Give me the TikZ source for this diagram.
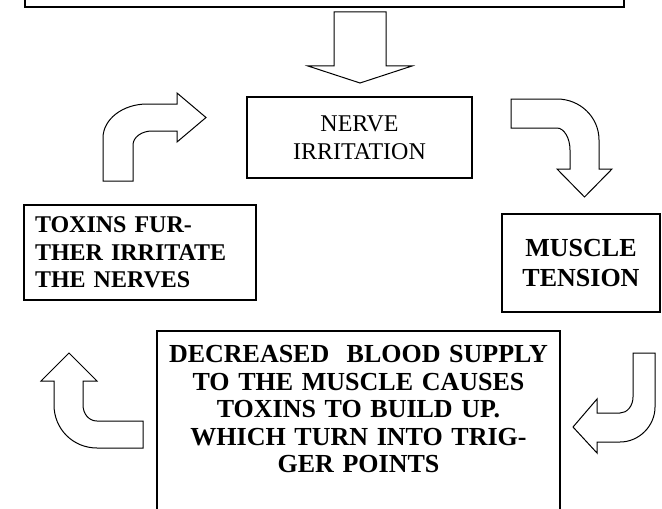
\documentclass[tikz,border=0pt]{standalone}
\usepackage{fontspec}
\setmainfont{Liberation Serif}
\tikzstyle{plain box}=[
    draw = black,
    line width = 0.8pt,
    fill = white,
    rectangle,
    inner sep = 0pt,
    align = center
]
\tikzstyle{block arrow}=[
    draw = black,
    line width = 0.5pt,
    fill = white
]

\begin{document}
\begin{tikzpicture}[x=0.5pt, y=-0.5pt]
    \useasboundingbox[fill=white] (0,0) rectangle (662,508);

    \node[plain box, anchor=south west, minimum width=299.5pt, minimum height=40pt] (source) at (24,8) {};
    \node[plain box, minimum width=112.5pt, minimum height=40.5pt, font=\fontsize{12}{14}\selectfont] (nerve) at (359.5,137.5) {NERVE\\IRRITATION};
    \node[plain box, minimum width=79pt, minimum height=49pt, font=\bfseries\fontsize{13}{15}\selectfont] (tension) at (581,263) {MUSCLE\\TENSION};
    \node[plain box, minimum width=116pt, minimum height=47.5pt, text width=105pt, align=left, font=\bfseries\fontsize{12}{13.75}\selectfont] (toxins) at (140,252.5) {TOXINS FUR-\\THER IRRITATE\\THE NERVES};
    \node[plain box, anchor=north, text width=201.5pt, inner ysep=7.4pt, text depth=100pt, font=\bfseries\fontsize{13}{13.75}\selectfont] (supply) at (358.5,330) {DECREASED~ BLOOD SUPPLY\\TO THE MUSCLE CAUSES\\TOXINS TO BUILD UP.\\WHICH TURN INTO TRIG-\\GER POINTS};

    \draw[block arrow] (334,12) -- (386,12) -- (386,66) -- (412,66) -- (360,83) -- (308,66) -- (334,66) -- cycle;
    \draw[block arrow] (103,181) -- (103,138) .. controls (103,119) and (123,104) .. (147,104) -- (177,104) -- (177,93) -- (206,117.5) -- (177,142) -- (177,131) -- (152,131) .. controls (141.5,131) and (133,137.3) .. (133,145) -- (133,181) -- cycle;
    \draw[block arrow] (511,99) -- (557,99) .. controls (580,99) and (599,117) .. (599,140) -- (599,169) -- (612,169) -- (584.5,197) -- (557,169) -- (570,169) -- (570,150) .. controls (570,138) and (564,128) .. (557,128) -- (511,128) -- cycle;
    \draw[block arrow] (633,353) -- (655,353) -- (655,407) .. controls (655,426) and (639,442) .. (620,442) -- (597,442) -- (597,453) -- (573,427) -- (597,399) -- (597,413) -- (620,413) .. controls (627,413) and (633,406) .. (633,397) -- cycle;
    \draw[block arrow] (69,353) -- (97,381) -- (83,381) -- (83,405) .. controls (83,414) and (89,421) .. (97,421) -- (143,421) -- (143,448) -- (97,448) .. controls (73,448) and (54,429) .. (54,405) -- (54,381) -- (41,381) -- cycle;

\end{tikzpicture}
\end{document}
